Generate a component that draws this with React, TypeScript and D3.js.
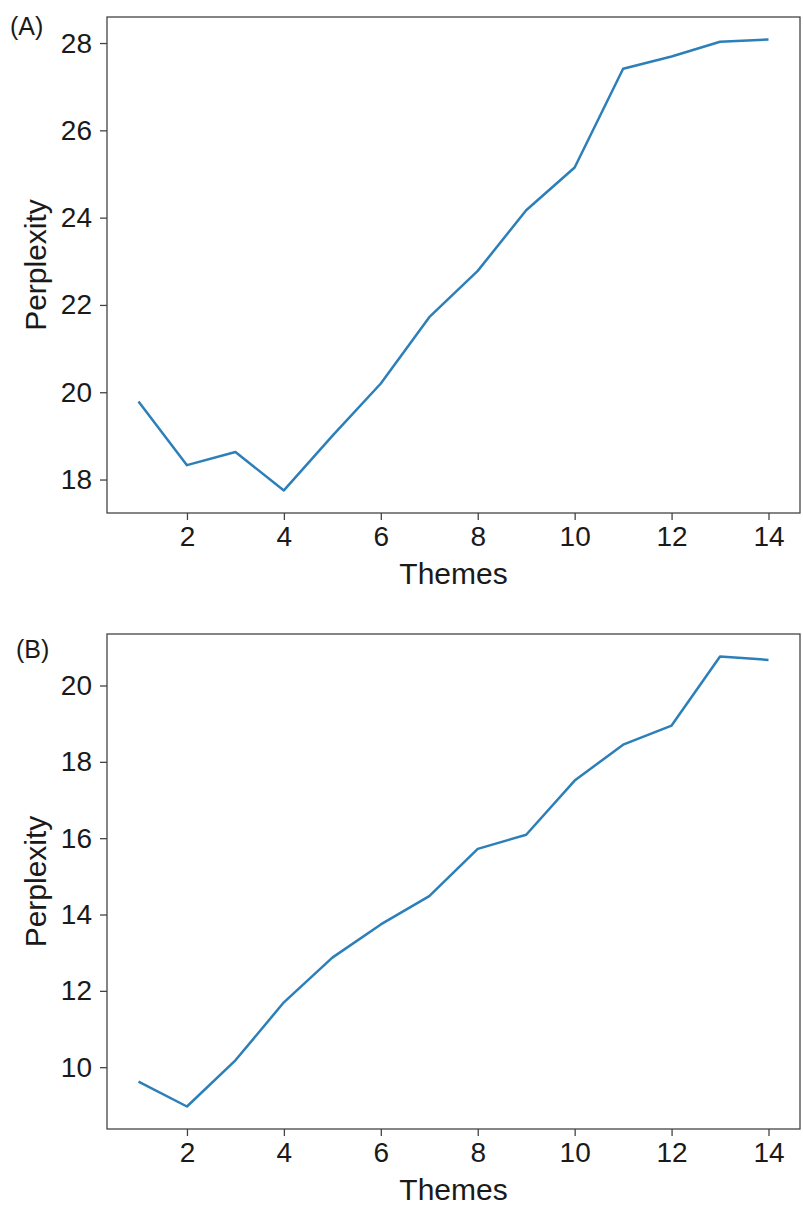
import React, { useRef, useEffect } from "react";
import * as d3 from "d3";

// x values (number of themes)
const themes = [1, 2, 3, 4, 5, 6, 7, 8, 9, 10, 11, 12, 13, 14];

// perplexity, panel (A)
const perplexityA = [19.79, 18.33, 18.63, 17.75, 19.0, 20.2, 21.72, 22.78, 24.17, 25.15, 27.41, 27.69, 28.03, 28.08];

// perplexity, panel (B)
const perplexityB = [9.62, 8.97, 10.18, 11.7, 12.87, 13.74, 14.48, 15.72, 16.09, 17.51, 18.45, 18.95, 20.76, 20.67];

const xTicks = [2, 4, 6, 8, 10, 12, 14];
const yTicksA = [18, 20, 22, 24, 26, 28];
const yTicksB = [10, 12, 14, 16, 18, 20];

const panels = [
  { label: "(A)", values: perplexityA, ticks: yTicksA, top: 17, bottom: 513, labelX: 10, labelY: 35 },
  { label: "(B)", values: perplexityB, ticks: yTicksB, top: 634, bottom: 1129, labelX: 16, labelY: 658 },
];

const FONT = "'Liberation Sans', Arial, sans-serif";

// matplotlib-like 5% padding around the data range
const padded = (vals: number[]): [number, number] => {
  const [lo, hi] = d3.extent(vals) as [number, number];
  const m = (hi - lo) * 0.05;
  return [lo - m, hi + m];
};

const App = () => {
  const svgRef = useRef<SVGSVGElement>(null);

  useEffect(() => {
    const svg = d3.select(svgRef.current);
    svg.selectAll("*").remove();

    const width = 803;
    const height = 1213;
    const left = 107;
    const right = 800;

    svg.append("rect").attr("width", width).attr("height", height).attr("fill", "#fff");

    const x = d3.scaleLinear().domain(padded(themes)).range([left, right]);

    panels.forEach((p) => {
      const y = d3.scaleLinear().domain(padded(p.values)).range([p.bottom, p.top]);
      const g = svg.append("g");

      // Axes
      const xAxis = d3.axisBottom(x).tickValues(xTicks).tickSize(7).tickPadding(6).tickFormat(d3.format("d"));
      const yAxis = d3.axisLeft(y).tickValues(p.ticks).tickSize(7).tickPadding(8).tickFormat(d3.format("d"));

      const gx = g.append("g").attr("transform", `translate(0,${p.bottom})`).call(xAxis);
      const gy = g.append("g").attr("transform", `translate(${left},0)`).call(yAxis);

      [gx, gy].forEach((a) => {
        a.select(".domain").remove();
        a.selectAll(".tick line").attr("stroke", "#444").attr("stroke-width", 1.3);
        a.selectAll(".tick text")
          .attr("fill", "#1a1a1a")
          .style("font-family", FONT)
          .style("font-size", "28px");
      });

      // Frame
      g.append("rect")
        .attr("x", left)
        .attr("y", p.top)
        .attr("width", right - left)
        .attr("height", p.bottom - p.top)
        .attr("fill", "none")
        .attr("stroke", "#444")
        .attr("stroke-width", 1.3);

      // Line
      const line = d3
        .line<number>()
        .x((_, i) => x(themes[i]))
        .y((d) => y(d));

      g.append("path")
        .datum(p.values)
        .attr("fill", "none")
        .attr("stroke", "#2c7fb8")
        .attr("stroke-width", 2.5)
        .attr("stroke-linejoin", "round")
        .attr("d", line);

      // Axis labels
      g.append("text")
        .attr("x", (left + right) / 2)
        .attr("y", p.bottom + 71)
        .attr("text-anchor", "middle")
        .style("font-family", FONT)
        .style("font-size", "30px")
        .attr("fill", "#1a1a1a")
        .text("Themes");

      g.append("text")
        .attr("transform", `translate(46,${(p.top + p.bottom) / 2}) rotate(-90)`)
        .attr("text-anchor", "middle")
        .style("font-family", FONT)
        .style("font-size", "30px")
        .attr("fill", "#1a1a1a")
        .text("Perplexity");

      // Panel label
      g.append("text")
        .attr("x", p.labelX)
        .attr("y", p.labelY)
        .style("font-family", FONT)
        .style("font-size", "25px")
        .attr("fill", "#1a1a1a")
        .text(p.label);
    });
  }, []);

  return (
    <svg
      ref={svgRef}
      width={803}
      height={1213}
      style={{ position: "absolute", left: 0, top: 0 }}
    ></svg>
  );
};

export default App;
